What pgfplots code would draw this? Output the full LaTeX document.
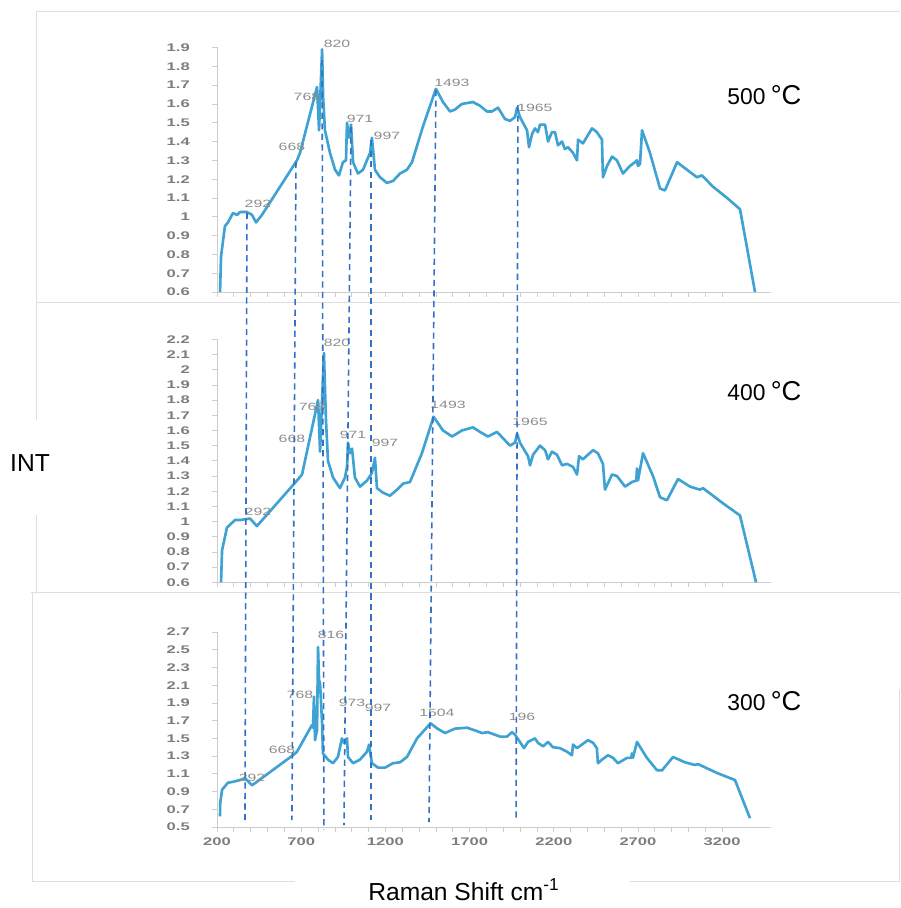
\documentclass[border=0pt]{standalone}
\usepackage{fontspec}
\setmainfont{Liberation Sans}
\usepackage{pgfplots}
\pgfplotsset{compat=1.18}

\definecolor{specblue}{RGB}{62,162,210}
\definecolor{guideblue}{RGB}{52,112,196}
\definecolor{ticklab}{RGB}{125,125,125}
\definecolor{framegray}{RGB}{222,222,222}
\definecolor{axgray}{RGB}{205,205,205}
\definecolor{peaklab}{RGB}{140,140,140}

\tikzset{peak/.style={font=\fontsize{6}{7}\selectfont, text=peaklab, inner sep=0pt}}
\newcommand{\wide}[1]{\scalebox{1.5}[1]{#1}}
\pgfplotsset{
  panel/.style={
    scale only axis, width=11.08cm,
    xmin=200, xmax=3490,
    axis x line*=bottom, axis y line*=left,
    axis line style={axgray, -},
    xtick={200,700,1200,1700,2200,2700,3200}, minor x tick num=4,
    tick align=outside,
    major tick length=0.1cm, minor tick length=0.1cm,
    tick style={axgray, thin},
    /pgf/number format/1000 sep={},
    /pgf/number format/assume math mode=true,
    yticklabel={\wide{\pgfmathprintnumber{\tick}}},
    xticklabel={\wide{\pgfmathprintnumber{\tick}}},
    yticklabel style={font=\fontsize{6.3}{7}\selectfont\bfseries, text=ticklab, xshift=-0.32cm},
    xticklabel style={font=\fontsize{6.3}{7}\selectfont\bfseries, text=ticklab},
    clip=false,
  },
  spec/.style={specblue, line width=1.5pt, no markers, line join=round},
}

\begin{document}
\begin{tikzpicture}
\useasboundingbox (0,0) rectangle (18,-18.16);

% panel frames
\draw[framegray] (0.72,-0.22) -- (18,-0.22);
\draw[framegray] (0.72,-0.22) -- (0.72,-6.04) -- (18,-6.04);
\draw[framegray] (0.72,-6.04) -- (0.72,-8.4);
\draw[framegray] (0.72,-10.3) -- (0.72,-11.84);
\draw[framegray] (0.62,-11.84) -- (18,-11.84);
\draw[framegray] (0.64,-11.84) -- (0.64,-17.62) -- (5.9,-17.62);
\draw[framegray] (12.6,-17.62) -- (18,-17.62);
\draw[framegray] (17.98,-13.8) -- (17.98,-17.62);

% 500 C
\begin{axis}[panel, at={(4.34cm,-5.84cm)}, anchor=south west, height=4.89cm,
  ymin=0.6, ymax=1.9, xticklabels={},
  ytick={0.6,0.7,0.8,0.9,1,1.1,1.2,1.3,1.4,1.5,1.6,1.7,1.8,1.9}]
\addplot[spec] coordinates {
(218,0.60)(224,0.79)(247,0.95)(265,0.97)(295,1.02)(319,1.01)(337,1.025)(378,1.025)
(408,1.01)(432,0.97)(467,1.01)(675,1.30)(693,1.34)(794,1.69)(806,1.46)(824,1.89)
(830,1.64)(841,1.46)(871,1.34)(901,1.25)(924,1.22)(948,1.29)(966,1.30)(972,1.50)
(984,1.42)(996,1.49)(1008,1.29)(1037,1.23)(1067,1.25)(1109,1.34)(1120,1.42)(1138,1.25)
(1168,1.21)(1209,1.18)(1245,1.19)(1287,1.23)(1328,1.25)(1358,1.29)(1423,1.48)(1500,1.68)
(1542,1.61)(1584,1.56)(1613,1.57)(1655,1.60)(1720,1.61)(1762,1.59)(1803,1.56)(1833,1.56)
(1869,1.58)(1910,1.52)(1940,1.51)(1970,1.53)(1982,1.58)(1999,1.53)(2041,1.46)(2053,1.37)
(2071,1.44)(2088,1.47)(2106,1.45)(2118,1.49)(2148,1.49)(2166,1.40)(2189,1.45)(2207,1.45)
(2225,1.38)(2249,1.40)(2266,1.36)(2284,1.37)(2314,1.34)(2338,1.30)(2344,1.41)(2373,1.39)
(2427,1.47)(2456,1.45)(2486,1.41)(2492,1.21)(2516,1.27)(2546,1.32)(2575,1.30)(2611,1.23)
(2652,1.27)(2682,1.29)(2694,1.30)(2700,1.27)(2712,1.28)(2724,1.46)(2771,1.34)(2831,1.15)
(2860,1.14)(2932,1.29)(2991,1.25)(3050,1.21)(3080,1.22)(3145,1.16)(3229,1.10)(3306,1.04)
(3395,0.60)};
\node[peak] at (axis cs:913,1.92) {\wide{820}};
\node[peak] at (axis cs:734,1.637) {\wide{768}};
\node[peak] at (axis cs:1049,1.52) {\wide{971}};
\node[peak] at (axis cs:1209,1.43) {\wide{997}};
\node[peak] at (axis cs:645,1.37) {\wide{668}};
\node[peak] at (axis cs:443,1.07) {\wide{292}};
\node[peak] at (axis cs:1595,1.71) {\wide{1493}};
\node[peak] at (axis cs:2088,1.58) {\wide{1965}};
\end{axis}

% 400 C
\begin{axis}[panel, at={(4.34cm,-11.646cm)}, anchor=south west, height=4.86cm,
  ymin=0.6, ymax=2.2, xticklabels={},
  ytick={0.6,0.7,0.8,0.9,1,1.1,1.2,1.3,1.4,1.5,1.6,1.7,1.8,1.9,2,2.1,2.2}]
\addplot[spec] coordinates {
(224,0.60)(230,0.81)(259,0.96)(307,1.01)(337,1.01)(396,1.02)(437,0.97)(675,1.27)
(705,1.31)(800,1.80)(812,1.46)(835,2.11)(847,1.67)(859,1.40)(889,1.29)(930,1.22)
(960,1.29)(972,1.36)(978,1.52)(990,1.45)(1002,1.48)(1019,1.29)(1049,1.23)(1091,1.27)
(1120,1.32)(1138,1.42)(1150,1.22)(1186,1.19)(1227,1.17)(1269,1.21)(1305,1.25)(1346,1.26)
(1417,1.45)(1486,1.69)(1542,1.60)(1596,1.56)(1655,1.60)(1720,1.62)(1762,1.59)(1809,1.56)
(1863,1.59)(1940,1.50)(1970,1.52)(1982,1.58)(1999,1.52)(2047,1.43)(2059,1.37)(2077,1.44)
(2118,1.50)(2148,1.47)(2166,1.41)(2189,1.46)(2219,1.44)(2249,1.37)(2278,1.38)(2314,1.36)
(2338,1.31)(2350,1.43)(2373,1.41)(2433,1.47)(2462,1.45)(2492,1.38)(2504,1.21)(2546,1.31)
(2575,1.30)(2623,1.23)(2664,1.26)(2690,1.27)(2694,1.35)(2700,1.27)(2730,1.45)(2789,1.30)
(2831,1.16)(2872,1.14)(2938,1.28)(3009,1.23)(3068,1.21)(3086,1.22)(3205,1.12)(3306,1.04)
(3401,0.60)};
\node[peak] at (axis cs:913,2.175) {\wide{820}};
\node[peak] at (axis cs:764,1.754) {\wide{768}};
\node[peak] at (axis cs:645,1.543) {\wide{668}};
\node[peak] at (axis cs:1008,1.57) {\wide{971}};
\node[peak] at (axis cs:1198,1.52) {\wide{997}};
\node[peak] at (axis cs:443,1.063) {\wide{292}};
\node[peak] at (axis cs:1572,1.77) {\wide{1493}};
\node[peak] at (axis cs:2059,1.655) {\wide{1965}};
\end{axis}

% 300 C
\begin{axis}[panel, at={(4.34cm,-16.54cm)}, anchor=south west, height=3.9cm,
  ymin=0.5, ymax=2.7,
  ytick={0.5,0.7,0.9,1.1,1.3,1.5,1.7,1.9,2.1,2.3,2.5,2.7}]
\addplot[spec] coordinates {
(218,0.62)(219,0.77)(230,0.92)(265,1.00)(295,1.01)(337,1.03)(366,1.05)(408,0.97)
(651,1.31)(675,1.35)(764,1.65)(770,1.62)(776,1.97)(782,1.48)(794,1.59)(800,2.53)
(806,2.16)(812,2.12)(824,1.67)(829,1.33)(859,1.26)(889,1.22)(918,1.29)(942,1.50)
(954,1.45)(972,1.50)(978,1.29)(1008,1.22)(1049,1.26)(1091,1.35)(1103,1.43)(1120,1.22)
(1156,1.17)(1198,1.17)(1245,1.22)(1287,1.23)(1328,1.29)(1388,1.50)(1468,1.67)(1509,1.61)
(1554,1.56)(1613,1.61)(1685,1.62)(1732,1.59)(1774,1.56)(1809,1.57)(1881,1.52)(1922,1.52)
(1952,1.57)(1970,1.54)(1999,1.46)(2023,1.39)(2047,1.46)(2088,1.50)(2106,1.45)(2136,1.41)
(2166,1.46)(2195,1.40)(2237,1.39)(2278,1.35)(2308,1.31)(2314,1.43)(2338,1.39)(2403,1.48)
(2433,1.45)(2456,1.39)(2462,1.22)(2486,1.26)(2522,1.31)(2552,1.28)(2581,1.22)(2635,1.28)
(2660,1.28)(2664,1.33)(2670,1.28)(2694,1.46)(2753,1.28)(2813,1.14)(2843,1.14)(2908,1.29)
(2979,1.23)(3038,1.20)(3056,1.21)(3169,1.11)(3276,1.03)(3365,0.60)};
\node[peak] at (axis cs:877,2.667) {\wide{816}};
\node[peak] at (axis cs:693,1.99) {\wide{768}};
\node[peak] at (axis cs:1002,1.90) {\wide{973}};
\node[peak] at (axis cs:1156,1.843) {\wide{997}};
\node[peak] at (axis cs:586,1.37) {\wide{668}};
\node[peak] at (axis cs:408,1.06) {\wide{292}};
\node[peak] at (axis cs:1506,1.79) {\wide{1504}};
\node[peak] at (axis cs:2011,1.74) {\wide{196}};
\end{axis}

% guide lines across the three panels (y in picture rows, top = 0)
\begin{axis}[at={(4.34cm,-18.16cm)}, anchor=south west, scale only axis,
  width=11.08cm, height=18.16cm, xmin=200, xmax=3490, ymin=0, ymax=908,
  y dir=reverse, hide axis, clip=false]
\addplot[guideblue, line width=0.9pt, dash pattern=on 3.5pt off 2.5pt] coordinates {(378,213)(366,822)};
\addplot[guideblue, line width=0.9pt, dash pattern=on 3.5pt off 2.5pt] coordinates {(669,162)(645,820)};
\addplot[guideblue, line width=0.9pt, dash pattern=on 3.5pt off 2.5pt] coordinates {(824,60)(835,830)};
\addplot[guideblue, line width=0.9pt, dash pattern=on 3.5pt off 2.5pt] coordinates {(996,127)(954,825)};
\addplot[guideblue, line width=0.9pt, dash pattern=on 3.5pt off 2.5pt] coordinates {(1114,140)(1114,820)};
\addplot[guideblue, line width=0.9pt, dash pattern=on 3.5pt off 2.5pt] coordinates {(1500,90)(1459,822)};
\addplot[guideblue, line width=0.9pt, dash pattern=on 3.5pt off 2.5pt] coordinates {(1987,105)(1976,820)};
\end{axis}

% labels
\node[anchor=base west, inner sep=0pt] at (14.54,-2.10)
  {\fontsize{13}{14}\selectfont 500\hspace{3pt}\fontsize{15.5}{16}\selectfont °C};
\node[anchor=base west, inner sep=0pt] at (14.54,-8.00)
  {\fontsize{13}{14}\selectfont 400\hspace{3pt}\fontsize{15.5}{16}\selectfont °C};
\node[anchor=base west, inner sep=0pt] at (14.54,-14.20)
  {\fontsize{13}{14}\selectfont 300\hspace{3pt}\fontsize{15.5}{16}\selectfont °C};
\node[inner sep=0pt] at (0.6,-9.26) {\fontsize{14}{15}\selectfont INT};
\node[anchor=base west, inner sep=0pt] at (7.36,-18.0)
  {\fontsize{14}{15}\selectfont Raman Shift cm\textsuperscript{-1}};
\end{tikzpicture}
\end{document}
